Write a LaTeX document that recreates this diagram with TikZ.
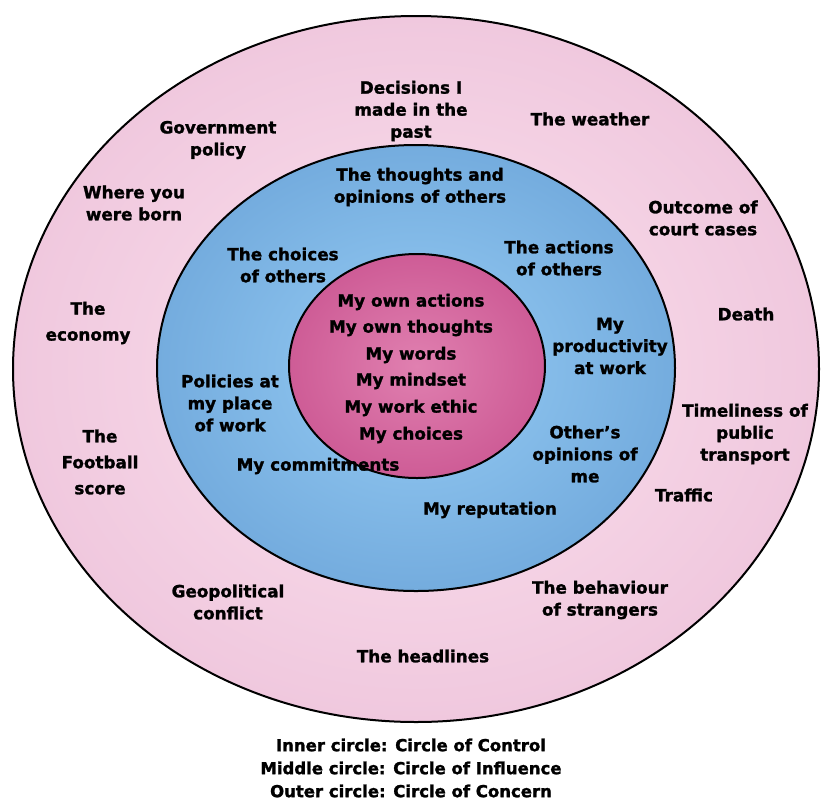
\documentclass[tikz,border=0pt]{standalone}
\usepackage{fontspec}
\setmainfont{DejaVu Sans}[BoldFeatures={FakeBold=1.5}]
\definecolor{outerC}{RGB}{251,226,238}
\definecolor{outerE}{RGB}{240,200,222}
\definecolor{midC}{RGB}{150,204,244}
\definecolor{midE}{RGB}{116,172,222}
\definecolor{innC}{RGB}{224,128,176}
\definecolor{innE}{RGB}{206,92,150}
\tikzset{
  ring/.style={draw=black, line width=2pt},
  lbl/.style={align=center, inner sep=0pt, font=\bfseries\fontsize{16.8}{22}\selectfont},
  lblw/.style={align=center, inner sep=0pt, font=\bfseries\fontsize{16.8}{26}\selectfont},
  key/.style={align=center, inner sep=0pt, font=\bfseries\fontsize{16.5}{23}\selectfont}
}
\begin{document}
\begin{tikzpicture}[x=1pt,y=-1pt]
\useasboundingbox (0,0) rectangle (822,804);
\fill[white] (0,0) rectangle (822,804);
% circles
\path[ring, inner color=outerC, outer color=outerE] (416,369) ellipse [x radius=403, y radius=353];
\path[ring, inner color=midC, outer color=midE] (416,368) ellipse [x radius=259, y radius=223];
\path[ring, inner color=innC, outer color=innE] (417,366) ellipse [x radius=128, y radius=112];
% outer ring labels
\node[lbl] (decisions) at (411,111) {Decisions I\\made in the\\past};
\node[lbl] (gov) at (218,140) {Government\\policy};
\node[lbl] (weather) at (590,119) {The weather};
\node[lbl] (born) at (134,203) {Where you\\were born};
\node[lbl] (court) at (703,218) {Outcome of\\court cases};
\node[lblw] (economy) at (88,323) {The\\economy};
\node[lbl] (death) at (746,314) {Death};
\node[lbl] (transport) at (745,434) {Timeliness of\\public\\transport};
\node[lblw] (football) at (100,462) {The\\Football\\score};
\node[lbl] (traffic) at (684,495) {Traffic};
\node[lbl] (geo) at (228,602) {Geopolitical\\conflict};
\node[lbl] (strangers) at (600,600) {The behaviour\\of strangers};
\node[lbl] (headlines) at (423,656) {The headlines};
% middle ring labels
\node[lbl] (thoughts) at (420,187) {The thoughts and\\opinions of others};
\node[lbl] (choicesO) at (283,265) {The choices\\of others};
\node[lbl] (actionsO) at (559,258) {The actions\\of others};
\node[lbl] (product) at (610,346) {My\\productivity\\at work};
\node[lbl] (policies) at (230,403) {Policies at\\my place\\of work};
\node[lbl] (opinions) at (585,454) {Other's\\opinions of\\me};
\node[lbl] (commit) at (318,466) {My commitments};
\node[lbl] (reput) at (490,510) {My reputation};
% inner labels
\node[lbl] (i1) at (411,302) {My own actions};
\node[lbl] (i2) at (411,328) {My own thoughts};
\node[lbl] (i3) at (411,355) {My words};
\node[lbl] (i4) at (411,381) {My mindset};
\node[lbl] (i5) at (411,408) {My work ethic};
\node[lbl] (i6) at (411,435) {My choices};
% key
\node[key] (key) at (411,768) {Inner circle: Circle of Control\\Middle circle: Circle of Influence\\Outer circle: Circle of Concern};
\end{tikzpicture}
\end{document}
